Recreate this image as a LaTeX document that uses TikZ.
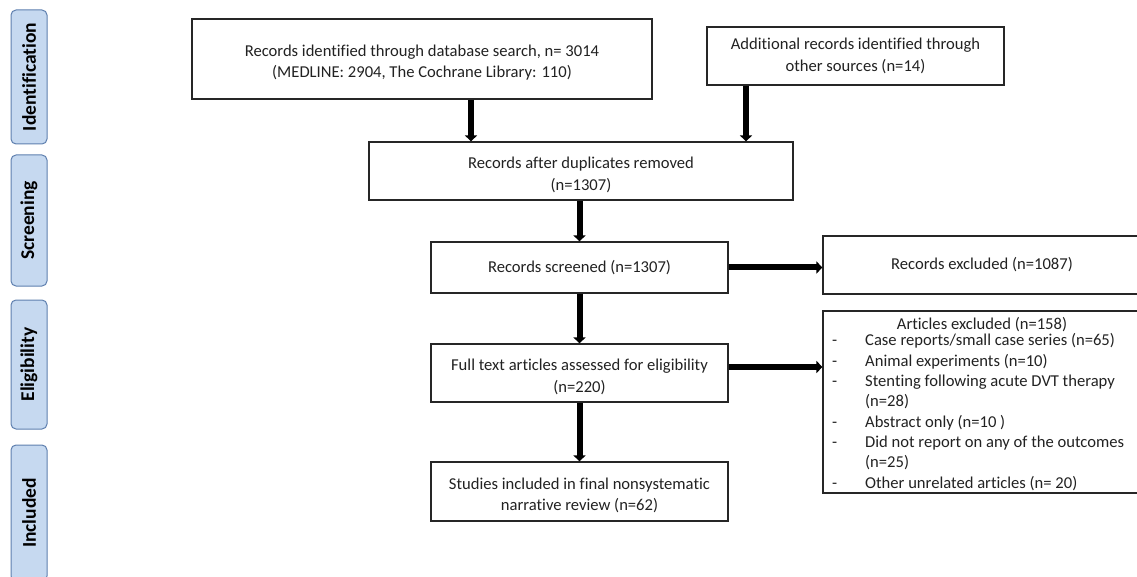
\documentclass[tikz,border=0pt]{standalone}
\usepackage{fontspec}
\setmainfont{Carlito}[Ligatures=NoCommon]
\usetikzlibrary{arrows.meta}
\definecolor{stagefill}{HTML}{C6D9F0}
\definecolor{stageborder}{HTML}{5E7FAE}
\definecolor{txt}{HTML}{222222}
\newcommand\toppad{\rule{0pt}{19pt}}
\begin{document}
\begin{tikzpicture}[x=1pt,y=-1pt,
  box/.style={draw=black!85, line width=1.2pt, fill=white, align=center, inner sep=0pt, text=txt, font=\fontsize{16.6}{21.5}\selectfont},
  plain/.style={inner sep=0pt, text=txt, font=\fontsize{16.6}{21}\selectfont},
  stage/.style={draw=stageborder, fill=stagefill, rounded corners=5pt, line width=1pt, minimum height=36pt, inner sep=0pt, font=\fontsize{19.5}{22}\selectfont\bfseries, rotate=90},
  arr/.style={line width=6pt, black, -{Triangle[width=12pt,length=6pt]}}]
\useasboundingbox (0,0) rectangle (1137,577);
% stage labels
\node[stage, minimum width=134pt] (s1) at (29,77) {Identification};
\node[stage, minimum width=131pt] (s2) at (29,220.5) {Screening};
\node[stage, minimum width=129pt] (s3) at (29,364.5) {Eligibility};
\node[stage, minimum width=136pt] (s4) at (29,513) {Included};
% boxes
\node[box, minimum width=460pt, minimum height=80pt] (b1) at (422,59) {\toppad Records identified through database search, n= 3014\\(MEDLINE: 2904, The Cochrane Library: 110)};
\node[box, minimum width=297pt, minimum height=58pt] (b2) at (855.5,56) {Additional records identified through\\other sources (n=14)};
\node[box, minimum width=424pt, minimum height=58pt] (b3) at (581,171) {\toppad Records after duplicates removed\\(n=1307)};
\node[box, minimum width=297pt, minimum height=51pt] (b4) at (579.5,267.5) {Records screened (n=1307)};
\node[box, minimum width=318pt, minimum height=58pt] (b5) at (982,265) {Records excluded (n=1087)};
\node[box, minimum width=297pt, minimum height=58pt] (b6) at (579.5,373) {\toppad Full text articles assessed for eligibility\\(n=220)};
\node[box, minimum width=318pt, minimum height=182pt] (b7) at (982,402) {};
\node[box, minimum width=297pt, minimum height=59pt] (b8) at (579.5,491.5) {\toppad Studies included in final nonsystematic\\narrative review (n=62)};
\node[plain] (t7) at (982,324.5) {Articles excluded (n=158)};
\node[plain, anchor=north west] (l7) at (832,331.5) {\fontsize{16.6}{20.3}\selectfont\begin{tabular}{@{}p{33pt}@{}l@{}}
- & Case reports/small case series (n=65)\\
- & Animal experiments (n=10)\\
- & Stenting following acute DVT therapy\\
 & (n=28)\\
- & Abstract only (n=10 )\\
- & Did not report on any of the outcomes\\
 & (n=25)\\
- & Other unrelated articles (n= 20)
\end{tabular}};
% connectors
\coordinate (ax1) at (471,0);
\coordinate (ax2) at (746,0);
\coordinate (ay) at (0,367);
\draw[arr] (b1.south -| ax1) -- (b3.north -| ax1);
\draw[arr] (b2.south -| ax2) -- (b3.north -| ax2);
\draw[arr] (b3.south -| b4.north) -- (b4.north);
\draw[arr] (b4.east) -- (b4.east -| b5.west);
\draw[arr] (b4.south) -- (b6.north);
\draw[arr] (b6.east |- ay) -- (b7.west |- ay);
\draw[arr] (b6.south) -- (b8.north);
\end{tikzpicture}
\end{document}
